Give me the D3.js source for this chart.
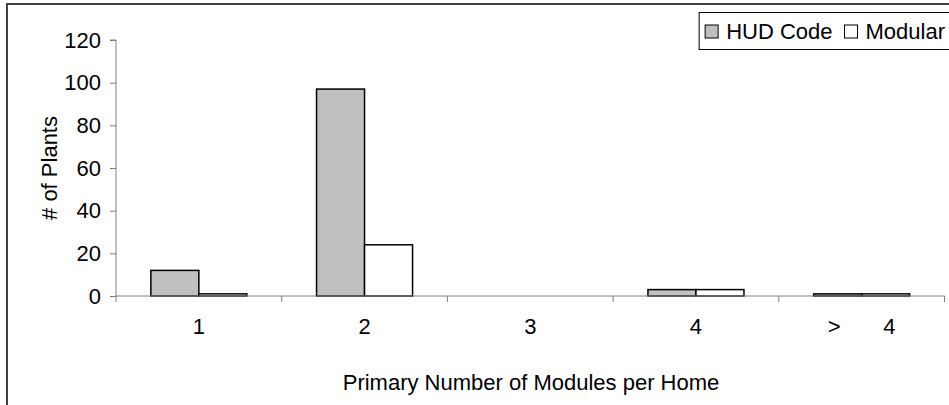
<!DOCTYPE html>
<html><head><meta charset="utf-8">
<script src="https://cdn.jsdelivr.net/npm/d3@7/dist/d3.min.js"></script>
<style>body{margin:0;background:#fff}svg{display:block;font-family:"Liberation Sans",Arial,sans-serif}</style>
</head><body>
<script>
const categories = ["1", "2", "3", "4", ">       4"];
const seriesNames = ["HUD Code", "Modular"];
const hudValues = [12, 97, 0, 3, 1];
const modularValues = [1, 24, 0, 3, 1];
const yTicks = [0, 20, 40, 60, 80, 100, 120];

const FS = 22;
const W = 949, H = 405;
const svg = d3.select("body").append("svg").attr("width", W).attr("height", H);

// outer chart border (extends past right/bottom)
svg.append("rect").attr("x", 7).attr("y", 4).attr("width", W + 20).attr("height", H + 20)
  .attr("fill", "none").attr("stroke", "#404040").attr("stroke-width", 2);

const x0 = 116, x1 = 944.5, yTop = 40, yBot = 296;
const x = d3.scaleBand().domain(categories).range([x0, x1]).paddingInner(0).paddingOuter(0);
const xs = d3.scaleBand().domain(seriesNames).range([0, x.bandwidth()]).paddingInner(0).paddingOuter(0.726);
const y = d3.scaleLinear().domain([0, 120]).range([yBot, yTop]);

const data = categories.map((c, i) => ({cat: c, vals: [hudValues[i], modularValues[i]]}));
const fills = ["#c0c0c0", "#ffffff"];

// bars
const g = svg.append("g");
data.forEach(d => {
  d.vals.forEach((v, j) => {
    if (v <= 0) return;
    g.append("rect")
      .attr("x", x(d.cat) + xs(seriesNames[j]))
      .attr("y", y(v))
      .attr("width", xs.bandwidth())
      .attr("height", yBot - y(v))
      .attr("fill", fills[j]).attr("stroke", "#000").attr("stroke-width", 1.5);
  });
});

// y axis
const yAxis = d3.axisLeft(y).tickValues(yTicks).tickSize(6).tickPadding(9).tickFormat(d3.format("d"));
const ya = svg.append("g").attr("transform", `translate(${x0},0)`).call(yAxis);
ya.select(".domain").attr("stroke", "#808080").attr("d", `M-6,${yTop}H0V${yBot}`);
ya.selectAll(".tick line").attr("stroke", "#808080");
ya.selectAll(".tick text").attr("font-size", FS).attr("fill", "#000").attr("font-family", '"Liberation Sans",Arial,sans-serif');

// x axis
const xa = svg.append("g").attr("transform", `translate(0,${yBot})`);
xa.append("line").attr("x1", x0).attr("x2", x1).attr("y1", 0).attr("y2", 0).attr("stroke", "#808080");
const bounds = categories.map(c => x(c)).concat([x1]);
xa.selectAll("line.t").data(bounds).enter().append("line").attr("class", "t")
  .attr("x1", d => d).attr("x2", d => d).attr("y1", 0).attr("y2", 6).attr("stroke", "#808080");
xa.selectAll("text").data(categories).enter().append("text")
  .attr("x", d => x(d) + x.bandwidth() / 2).attr("y", 38)
  .attr("text-anchor", "middle").attr("font-size", FS).attr("fill", "#000")
  .style("white-space", "pre").attr("xml:space", "preserve").text(d => d);

// axis titles
svg.append("text").attr("transform", "translate(57,168) rotate(-90)")
  .attr("text-anchor", "middle").attr("font-size", FS).text("# of Plants");
svg.append("text").attr("x", 531).attr("y", 390)
  .attr("text-anchor", "middle").attr("font-size", FS).text("Primary Number of Modules per Home");

// legend (laid out from its right end, which sits at the picture edge)
const lg = svg.append("g");
const box = lg.append("rect").attr("y", 12.5).attr("height", 37)
  .attr("fill", "#fff").attr("stroke", "#000").attr("stroke-width", 1);
const t1 = lg.append("text").attr("y", 39).attr("font-size", FS).text(seriesNames[0]);
const t2 = lg.append("text").attr("y", 39).attr("font-size", FS).text(seriesNames[1]);
const w1 = t1.node().getComputedTextLength(), w2 = t2.node().getComputedTextLength();
const m2 = 945 - w2, s2 = m2 - 21, m1 = s2 - 12 - w1, s1 = m1 - 21;
t1.attr("x", m1); t2.attr("x", m2);
[s1, s2].forEach((sx, j) => {
  lg.append("rect").attr("x", sx).attr("y", 25).attr("width", 13).attr("height", 13)
    .attr("fill", fills[j]).attr("stroke", "#000").attr("stroke-width", 1);
});
box.attr("x", s1 - 6).attr("width", 960 - (s1 - 6));
</script>
</body></html>
